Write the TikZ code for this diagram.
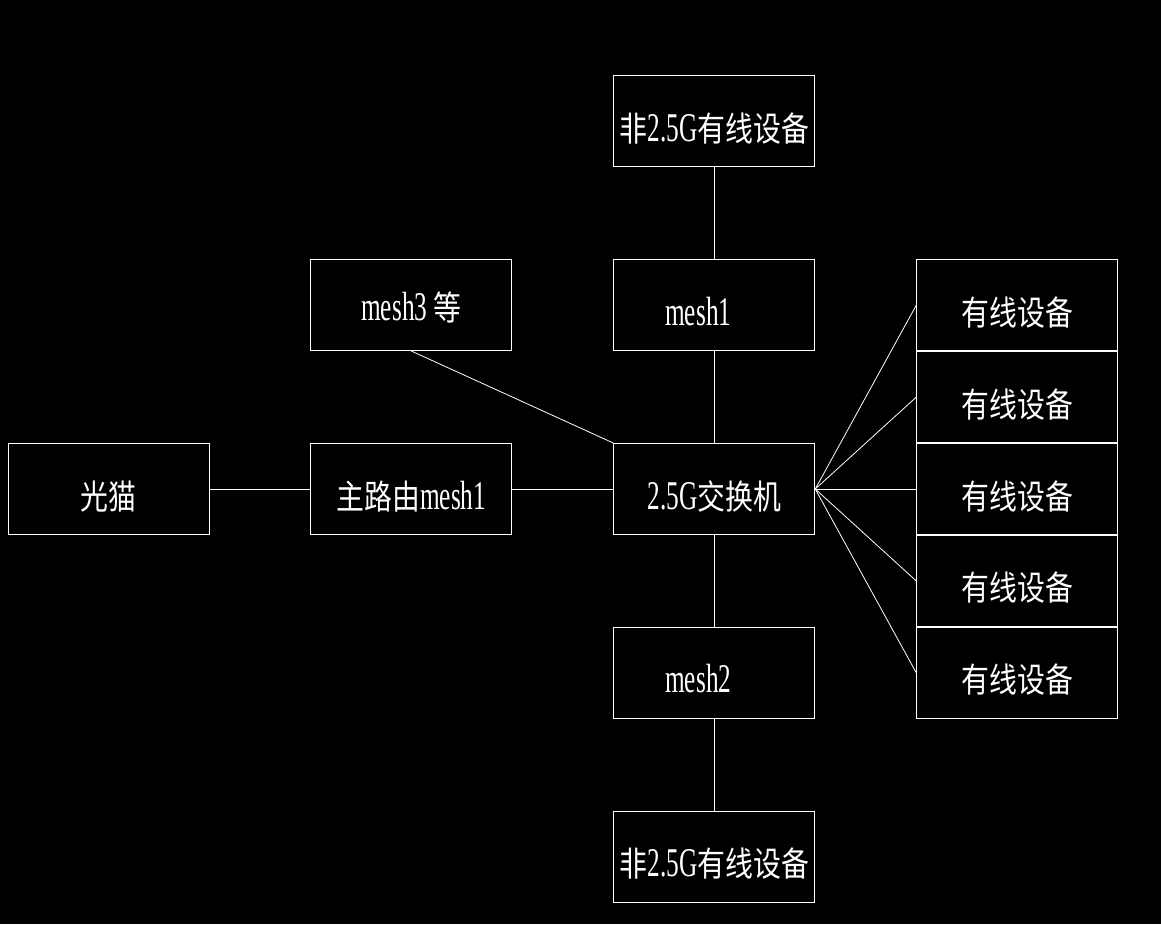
\documentclass[tikz,border=0pt]{standalone}
\usepackage{fontspec}
\setmainfont[FakeStretch=0.62,Scale=1.2]{Liberation Serif}
\newfontfamily\cjk[FakeStretch=0.82]{Noto Sans CJK SC}
\usetikzlibrary{positioning}

\begin{document}
\begin{tikzpicture}[
  x=1pt,y=-1pt,
  node distance=92pt and 101pt,
  box/.style={draw=white!90,line width=0.9pt,minimum width=201pt,minimum height=91pt,inner sep=0pt,
    text=white,font=\fontsize{34}{40}\selectfont,text height=40pt,text depth=0pt},
  wire/.style={draw=white!85,line width=0.8pt}
]
\fill[black] (0,0) rectangle (1161,924);
\useasboundingbox (0,0) rectangle (1161,924);

% main chain
\node[box] (modem) at (108.5,489) {\cjk 光猫};
\node[box,right=of modem] (router) {{\cjk 主路由}mesh1};
\node[box,right=of router] (switch) {2.5G{\cjk 交换机}};
\node[box,above=of router,text height=30pt] (meshthree) {mesh3 {\cjk 等}};
\node[box,above=of switch] (meshone) {mesh1\kern32pt};
\node[box,above=of meshone] (topdev) {{\cjk 非}2.5G{\cjk 有线设备}};
\node[box,below=of switch] (meshtwo) {mesh2\kern32pt};
\node[box,below=of meshtwo] (botdev) {{\cjk 非}2.5G{\cjk 有线设备}};

% wired devices
\node[box,right=of switch] (wiredc) {\cjk 有线设备};
\node[box,above=0pt of wiredc] (wiredb) {\cjk 有线设备};
\node[box,above=0pt of wiredb] (wireda) {\cjk 有线设备};
\node[box,below=0pt of wiredc] (wiredd) {\cjk 有线设备};
\node[box,below=0pt of wiredd] (wirede) {\cjk 有线设备};

\draw[wire] (modem) -- (router);
\draw[wire] (router) -- (switch);
\draw[wire] (meshthree.south) -- (switch.north west);
\draw[wire] (switch) -- (meshone);
\draw[wire] (meshone) -- (topdev);
\draw[wire] (switch) -- (meshtwo);
\draw[wire] (meshtwo) -- (botdev);
\foreach \w in {wireda,wiredb,wiredc,wiredd,wirede}
  \draw[wire] (switch.east) -- (\w.west);
\end{tikzpicture}
\end{document}
